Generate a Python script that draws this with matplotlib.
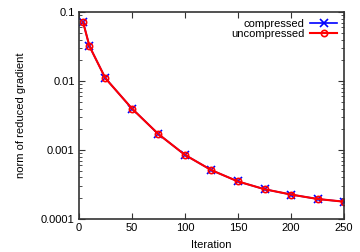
import matplotlib
matplotlib.use("Agg")
import matplotlib.pyplot as plt
import numpy as np

iters = [4, 10, 25, 50, 75, 100, 125, 150, 175, 200, 225, 250]
compressed = [0.0715, 0.032, 0.011, 0.004, 0.0017, 0.00085, 0.00051, 0.00035, 0.00027, 0.000226, 0.000195, 0.000178]
uncompressed = [0.0715, 0.032, 0.011, 0.004, 0.0017, 0.00085, 0.00051, 0.00035, 0.00027, 0.000226, 0.000195, 0.000178]

plt.rcParams['font.family'] = ['Liberation Sans', 'DejaVu Sans']
plt.rcParams['font.size'] = 8

fig = plt.figure(figsize=(3.6, 2.52), dpi=100)
ax = fig.add_axes([0.219, 0.131, 0.737, 0.821])

ax.plot(iters, compressed, color='blue', lw=1.2, marker='x', ms=6, mew=1.2, label='compressed')
ax.plot(iters, uncompressed, color='red', lw=1.5, marker='o', ms=4.5, mfc='none', mew=1.2, label='uncompressed')

ax.set_yscale('log')
ax.set_xlim(0, 250)
ax.set_ylim(0.0001, 0.1)
ax.set_xticks([0, 50, 100, 150, 200, 250])
ax.set_yticks([0.0001, 0.001, 0.01, 0.1])
ax.set_yticklabels(['0.0001', '0.001', '0.01', '0.1'])
ax.tick_params(which='both', direction='in', top=True, right=True, colors='#333333', labelcolor='black', pad=3)
ax.tick_params(which='major', length=4)
ax.tick_params(which='minor', length=2)
for s in ax.spines.values():
    s.set_linewidth(1.2)
    s.set_color('#333333')

ax.set_xlabel('Iteration', labelpad=5)
ax.set_ylabel('norm of reduced gradient', labelpad=11)

ax.legend(loc='upper right', markerfirst=False, frameon=False, handlelength=2.5,
          borderaxespad=0.2, labelspacing=0.0, handletextpad=0.5)

fig.savefig('out.png', dpi=100)
